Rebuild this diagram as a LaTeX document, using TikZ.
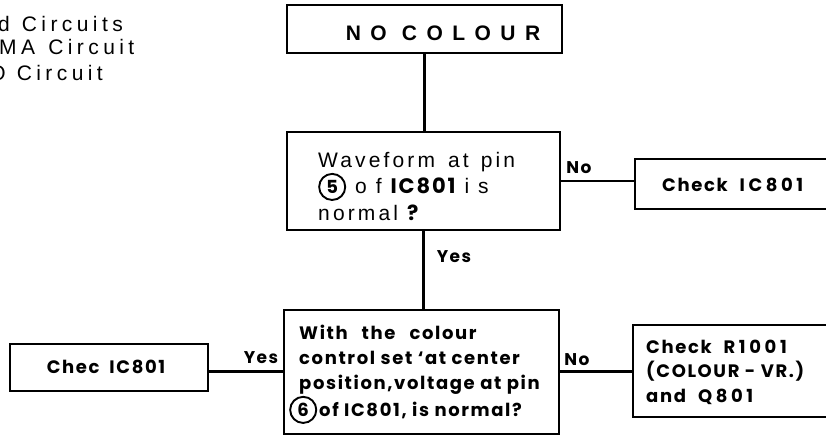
\documentclass[tikz,border=0pt]{standalone}
\usepackage{fontspec}
\setmainfont{Liberation Sans}
\newfontfamily\helvtop[LetterSpace=21]{Liberation Sans}
\newfontfamily\helvq[LetterSpace=15]{Liberation Sans}
\newfontfamily\titlefont[LetterSpace=45]{Liberation Sans}
\newfontfamily\lett[LetterSpace=9]{Poppins}
\newfontfamily\lettwide[LetterSpace=20]{Poppins}
\newcommand\circnum[1]{\smash{\tikz[baseline=(cn.base)]\node[draw,circle,line width=1.9pt,inner sep=3pt,font=\lett\bfseries\fontsize{18}{18}\selectfont] (cn) {#1};}}
\begin{document}
\begin{tikzpicture}[x=1pt,y=-1pt,
  box/.style={draw,line width=2pt,rectangle,inner sep=0pt},
  conn/.style={line width=2.8pt},
  lbl/.style={font=\lett\bfseries\fontsize{17}{20}\selectfont,inner sep=0pt},
  lettr/.style={font=\lett\bfseries\fontsize{18}{25}\selectfont,inner sep=0pt},
  toptext/.style={font=\helvtop\fontsize{21}{24}\selectfont,inner sep=0pt,anchor=base east}]
\useasboundingbox (0,0) rectangle (826,436);
\clip (0,0) rectangle (826,436);
% top-left cut-off text
\node[toptext] (t1) at (123,32) {d\hspace{2pt} Circuits};
\node[toptext,anchor=base west] (t2) at (-1,55) {MA\hspace{3pt} Circuit};
\node[toptext] (t3) at (103,80) {O\hspace{1pt} Circuit};
% title box
\node[box,line width=2.5pt,minimum width=275pt,minimum height=48pt] (title) at (424.5,29) {};
\node[font=\titlefont\bfseries\fontsize{21}{24}\selectfont,inner sep=0pt] (titletext) at (443,33) {NO COLOUR};
% first question
\node[box,minimum width=273pt,minimum height=98pt] (q1) at (423.5,181) {};
\node[anchor=west,align=left,inner sep=0pt,font=\helvq\fontsize{21}{26.5}\selectfont] (q1t) at (318,186)
  {Waveform\hspace{4pt} at\hspace{3pt} pin\\\circnum{5} o f {\lett\bfseries IC801} i s\\normal {\lett\bfseries ?}};
% check IC801 (right)
\node[box,minimum width=215pt,minimum height=50pt] (chk1) at (742.5,184) {};
\node[lettr,anchor=west] (chk1t) at (662,185) {Check\hspace{12pt}{\lettwide\bfseries IC801}};
% second question
\node[box,minimum width=275pt,minimum height=124pt] (q2) at (421.5,371.5) {};
\node[lettr,anchor=west,align=left] (q2t) at (299,372)
  {With\hspace{14pt}the\hspace{14pt}colour\\control set ‘at center\\position,voltage at pin\\[2pt]\hspace{-10pt}\circnum{6}\hspace{2pt}of IC801, is normal?};
% check R1001
\node[box,minimum width=216pt,minimum height=92pt] (chk2) at (741,371) {};
\node[lettr,anchor=west,align=left,font=\lett\bfseries\fontsize{18}{24.5}\selectfont] (chk2t) at (646,372)
  {Check\hspace{12pt}{\lettwide\bfseries R1001}\\(COLOUR - VR.)\\and\hspace{12pt}{\lettwide\bfseries Q801}};
% chec IC801 (left)
\node[box,minimum width=198pt,minimum height=47pt] (chk3) at (109,367) {};
\node[lettr] (chk3t) at (106,367) {Chec\hspace{10pt}IC801};
% connectors
\draw[conn] (title.south) -- (title.south |- q1.north);
\draw[conn] (q1.east) -- (q1.east -| chk1.west);
\draw[conn] (q1.south) -- (q1.south |- q2.north);
\draw[conn] (q2.east) -- (q2.east -| chk2.west);
\draw[conn] (q2.west) -- (q2.west -| chk3.east);
% labels
\node[lbl] (no1) at (579,168) {No};
\node[lbl] (yes1) at (454,257) {Yes};
\node[lbl] (no2) at (577,360) {No};
\node[lbl] (yes2) at (261,358) {Yes};
\end{tikzpicture}
\end{document}
